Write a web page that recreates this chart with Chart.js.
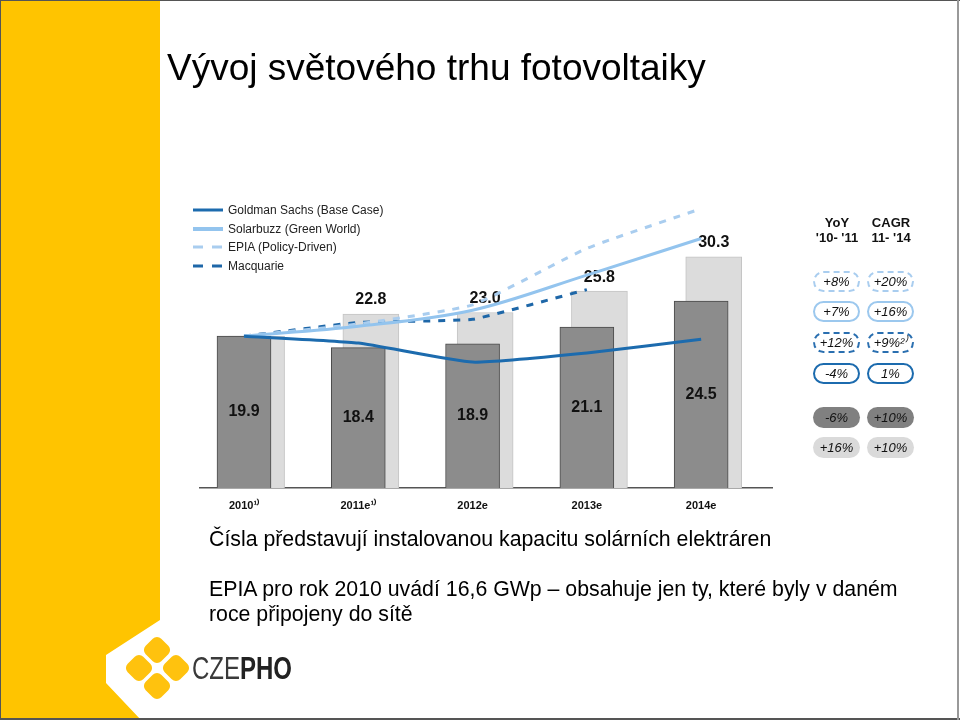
<!DOCTYPE html>
<html lang="cs">
<head>
<meta charset="utf-8">
<title>Vývoj světového trhu fotovoltaiky</title>
<script src="https://cdn.jsdelivr.net/npm/chart.js@4.4.1/dist/chart.umd.min.js"></script>
<style>
  html, body { margin: 0; padding: 0; background: #fff; }
  #slide { position: relative; width: 960px; height: 720px; overflow: hidden;
           font-family: Arial, "Liberation Sans", sans-serif; color: #000; }
  #bg { position: absolute; left: 0; top: 0; }
  #chart { position: absolute; left: 0; top: 0; }
  .title { position: absolute; left: 167px; top: 46px; font-size: 37px; line-height: 44px; white-space: nowrap; }
  .txt { position: absolute; left: 209px; font-size: 21.3px; line-height: 25px; white-space: nowrap; }
  .legend { position: absolute; left: 193px; top: 201px; font-size: 12px; color: #222; }
  .legend div { height: 18.5px; display: flex; align-items: center; }
  .legend svg { margin-right: 5px; }
  .head { position: absolute; width: 60px; text-align: center; font-weight: bold; font-size: 13px; line-height: 15px; color: #111; }
  .pill { position: absolute; width: 47px; height: 21px; box-sizing: border-box; border-radius: 10.5px;
          text-align: center; font-style: italic; font-size: 13px; line-height: 17px; color: #111; }
  .logo-text { position: absolute; left: 192px; top: 649px; font-size: 32px; line-height: 38px;
               transform: scaleX(0.75); transform-origin: left top; color: #3a3a3a; white-space: nowrap; }
  .frame { position: absolute; background: #555; }
</style>
</head>
<body>
<div id="slide">
  <svg id="bg" width="960" height="720">
    <polygon points="0,0 160,0 160,620 106,655 106,683 141,720 0,720" fill="#FFC400"/>
    <g fill="#FFC20E">
      <rect x="146" y="639" width="22" height="22" rx="6" transform="rotate(45 157 650)"/>
      <rect x="128" y="657" width="22" height="22" rx="6" transform="rotate(45 139 668)"/>
      <rect x="165" y="657" width="22" height="22" rx="6" transform="rotate(45 176 668)"/>
      <rect x="146" y="675" width="22" height="22" rx="6" transform="rotate(45 157 686)"/>
    </g>
  </svg>
  <canvas id="chart" width="960" height="720"></canvas>

  <div class="title">Vývoj světového trhu fotovoltaiky</div>

  <div class="legend">
    <div><svg width="30" height="6"><line x1="0" y1="3" x2="30" y2="3" stroke="#1C6BAE" stroke-width="3"/></svg>Goldman Sachs (Base Case)</div>
    <div><svg width="30" height="6"><line x1="0" y1="3" x2="30" y2="3" stroke="#93C4EE" stroke-width="4"/></svg>Solarbuzz (Green World)</div>
    <div><svg width="30" height="6"><line x1="0" y1="3" x2="30" y2="3" stroke="#A9CDEF" stroke-width="3" stroke-dasharray="10 9"/></svg>EPIA (Policy-Driven)</div>
    <div><svg width="30" height="6"><line x1="0" y1="3" x2="30" y2="3" stroke="#1E67A8" stroke-width="3" stroke-dasharray="10 9"/></svg>Macquarie</div>
  </div>

  <div class="head" style="left:807px; top:215px;">YoY<br>'10- '11</div>
  <div class="head" style="left:861px; top:215px;">CAGR<br>11- '14</div>
  <div id="pills"></div>

  <div class="txt" style="top:527px;">Čísla představují instalovanou kapacitu solárních elektráren</div>
  <div class="txt" style="top:577px;">EPIA pro rok 2010 uvádí 16,6 GWp – obsahuje jen ty, které byly v daném</div>
  <div class="txt" style="top:602px;">roce připojeny do sítě</div>

  <div class="logo-text">CZE<b style="color:#222">PHO</b></div>

  <div class="frame" style="left:0; top:0; width:960px; height:1px;"></div>
  <div class="frame" style="left:0; top:718px; width:960px; height:2px;"></div>
  <div class="frame" style="left:0; top:0; width:1px; height:720px;"></div>
  <div class="frame" style="left:957px; top:0; width:2px; height:720px; background:#999;"></div>
</div>

<script>
// data (GW)
const years = ['2010¹⁾', '2011e¹⁾', '2012e', '2013e', '2014e'];
const installed = [19.9, 18.4, 18.9, 21.1, 24.5];
const capacity = [19.9, 22.8, 23.0, 25.8, 30.3];
const goldman = [19.9, 19.0, 16.5, 17.7, 19.5];
const solarbuzz = [19.9, 21.2, 23.3, 27.9, 32.7];
const epia = [19.9, 21.5, 24.0, 31.4, 36.6];
const macquarie = [19.9, 21.7, 22.1, 26.0];

const yoy = ['+8%', '+7%', '+12%', '-4%', '-6%', '+16%'];
const cagr = ['+20%', '+16%', '+9%²⁾', '1%', '+10%', '+10%'];

// pills on the right
const pillStyles = [
  'border:2px dashed #A9CDEF;',
  'border:2px solid #9CC8EE;',
  'border:2px dashed #2A6FB0;',
  'border:2px solid #1C6BAE;',
  'background:#808080;line-height:21px;',
  'background:#DADADA;line-height:21px;'
];
const pillTops = [271, 301, 332, 363, 407, 437];
const pills = document.getElementById('pills');
yoy.forEach((t, i) => {
  pills.insertAdjacentHTML('beforeend',
    `<div class="pill" style="left:813px;top:${pillTops[i]}px;${pillStyles[i]}">${t}</div>` +
    `<div class="pill" style="left:867px;top:${pillTops[i]}px;${pillStyles[i]}">${cagr[i]}</div>`);
});

const pts = arr => arr.map((v, i) => ({ x: i, y: v }));
const shift = 0.11;

const valueLabels = {
  id: 'valueLabels',
  afterDatasetDraw(chart, args) {
    const ds = chart.data.datasets[args.index];
    if (!ds.labelMode) return;
    const ctx = chart.ctx;
    ctx.save();
    ctx.font = 'bold 16px Arial, "Liberation Sans", sans-serif';
    ctx.fillStyle = '#111';
    ctx.textAlign = 'center';
    ctx.textBaseline = 'middle';
    args.meta.data.forEach((bar, i) => {
      const v = ds.data[i].y.toFixed(1);
      if (ds.labelMode === 'inside') ctx.fillText(v, bar.x, (bar.y + bar.base) / 2);
      else if (i > 0) ctx.fillText(v, bar.x, bar.y - 14);
    });
    ctx.restore();
  }
};

new Chart(document.getElementById('chart'), {
  type: 'bar',
  data: {
    datasets: [
      { type: 'line', label: 'Goldman Sachs (Base Case)', data: pts(goldman), borderColor: '#1C6BAE',
        borderWidth: 3, pointRadius: 0, tension: 0.15, order: 0 },
      { type: 'line', label: 'Solarbuzz (Green World)', data: pts(solarbuzz), borderColor: '#93C4EE',
        borderWidth: 3, pointRadius: 0, cubicInterpolationMode: 'monotone', order: 0 },
      { type: 'line', label: 'EPIA (Policy-Driven)', data: pts(epia), borderColor: '#A9CDEF',
        borderWidth: 3, borderDash: [7, 8], pointRadius: 0, tension: 0.15, order: 0 },
      { type: 'line', label: 'Macquarie', data: pts(macquarie), borderColor: '#1E67A8',
        borderWidth: 3, borderDash: [7, 8], pointRadius: 0, tension: 0.1, order: 0 },
      { label: 'installed', data: pts(installed), backgroundColor: '#8C8C8C', borderColor: '#4A4A4A',
        borderWidth: 1, barThickness: 54, grouped: false, order: 1, labelMode: 'inside' },
      { label: 'capacity', data: capacity.map((v, i) => ({ x: i + shift, y: v })), backgroundColor: '#DCDCDC',
        borderColor: '#C4C4C4', borderWidth: 1, barThickness: 56, grouped: false, order: 2, labelMode: 'top' }
    ]
  },
  options: {
    responsive: false,
    animation: false,
    layout: { padding: { left: 200, right: 188, top: 198, bottom: 192 } },
    plugins: { legend: { display: false }, tooltip: { enabled: false } },
    scales: {
      x: {
        type: 'linear', min: -0.385, max: 4.62, offset: false,
        grid: { display: false, drawTicks: false },
        border: { display: true, color: '#555', width: 1.5 },
        afterBuildTicks: s => { s.ticks = years.map((_, i) => ({ value: i })); },
        afterFit: s => { s.height = 40; },
        ticks: {
          autoSkip: false, maxRotation: 0, padding: 11, color: '#111',
          font: { family: 'Arial, "Liberation Sans", sans-serif', size: 11, weight: 'bold' },
          callback: v => years[v]
        }
      },
      y: { display: false, min: 0, max: 38 }
    }
  },
  plugins: [valueLabels]
});
</script>
</body>
</html>
